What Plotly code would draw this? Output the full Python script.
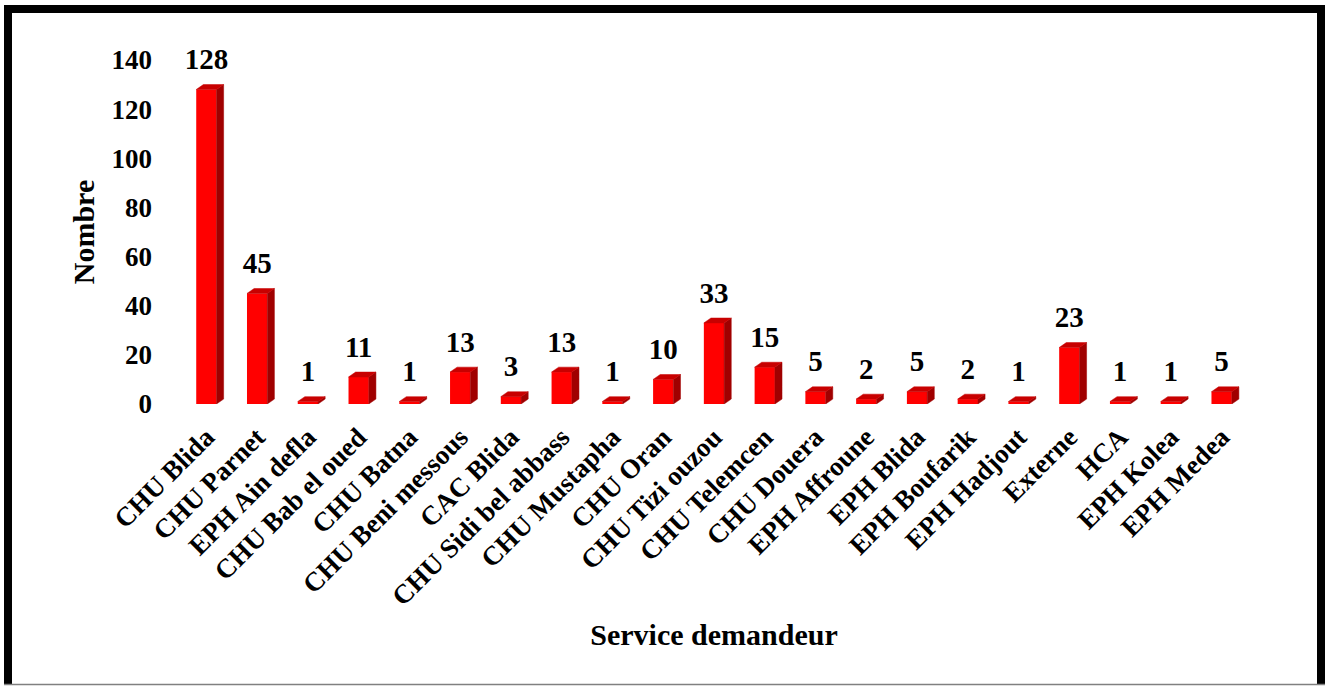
import plotly.graph_objects as go

categories = ["CHU Blida", "CHU Parnet", "EPH Ain defla", "CHU Bab el oued", "CHU Batna",
              "CHU Beni messous", "CAC Blida", "CHU Sidi bel abbass", "CHU Mustapha", "CHU Oran",
              "CHU Tizi ouzou", "CHU Telemcen", "CHU Douera", "EPH Affroune", "EPH Blida",
              "EPH Boufarik", "EPH Hadjout", "Externe", "HCA", "EPH Kolea", "EPH Medea"]
values = [128, 45, 1, 11, 1, 13, 3, 13, 1, 10, 33, 15, 5, 2, 5, 2, 1, 23, 1, 1, 5]
y_ticks = [0, 20, 40, 60, 80, 100, 120, 140]

W, H = 1325, 686
ML, MR, MT, MB = 181, 78, 60, 282
FONT = "Liberation Serif, Times New Roman, serif"

half = 0.2     # half width of the front face (category units)
dx = 0.14      # depth offset in x (category units)
dy = 2.0       # depth offset in y (value units)
label_gap = 3.3

xs = list(range(len(categories)))

side_x, side_y, top_x, top_y = [], [], [], []
for i, v in zip(xs, values):
    r = i + half
    l = i - half
    side_x += [r, r + dx, r + dx, r, r, None]
    side_y += [0, dy, v + dy, v, 0, None]
    top_x += [l, l + dx, r + dx, r, l, None]
    top_y += [v, v + dy, v + dy, v, v, None]

fig = go.Figure()
fig.add_trace(go.Bar(x=xs, y=values, width=2 * half,
                     marker=dict(color="#FF0000", line=dict(width=0)),
                     hoverinfo="x+y", showlegend=False))
fig.add_trace(go.Scatter(x=side_x, y=side_y, mode="lines", fill="toself",
                         fillcolor="#A00000", line=dict(width=0.5, color="#A00000"),
                         hoverinfo="skip", showlegend=False))
fig.add_trace(go.Scatter(x=top_x, y=top_y, mode="lines", fill="toself",
                         fillcolor="#C80000", line=dict(width=0.5, color="#C80000"),
                         hoverinfo="skip", showlegend=False))
fig.add_trace(go.Scatter(x=xs, y=[v + dy + label_gap for v in values], mode="text",
                         text=[str(v) for v in values], textposition="top center",
                         textfont=dict(family=FONT, size=29, color="black", weight="bold"),
                         cliponaxis=False, hoverinfo="skip", showlegend=False))

pw = W - ML - MR
ph = H - MT - MB
def px(xp):
    return (xp - ML) / pw
def py(yp):
    return (H - MB - yp) / ph

shapes = [
    dict(type="line", xref="paper", yref="paper", x0=px(8), x1=px(8), y0=py(5), y1=py(685),
         line=dict(color="black", width=8)),
    dict(type="line", xref="paper", yref="paper", x0=px(4), x1=px(1325), y0=py(9), y1=py(9),
         line=dict(color="black", width=8)),
    dict(type="line", xref="paper", yref="paper", x0=px(1321), x1=px(1321), y0=py(5), y1=py(685),
         line=dict(color="black", width=8)),
    dict(type="line", xref="paper", yref="paper", x0=px(4), x1=px(1325), y0=py(684.5), y1=py(684.5),
         line=dict(color="#808080", width=1.5)),
]

fig.update_layout(
    width=W, height=H,
    margin=dict(l=ML, r=MR, t=MT, b=MB, autoexpand=False),
    paper_bgcolor="white", plot_bgcolor="white",
    font=dict(family=FONT, color="black"),
    shapes=shapes,
    xaxis=dict(range=[-0.5, len(categories) - 0.5], tickmode="array", tickvals=xs,
               ticktext=categories, tickangle=-45, showgrid=False, zeroline=False,
               showline=False, ticks="", ticklabelstandoff=11,
               tickfont=dict(family=FONT, size=27, color="black", weight="bold"),
               title=dict(text="Service demandeur", standoff=13,
                          font=dict(family=FONT, size=30, color="black", weight="bold"))),
    yaxis=dict(range=[0, 140], tickmode="array", tickvals=y_ticks, showgrid=False,
               zeroline=False, showline=False, ticks="", ticklabelstandoff=28,
               tickfont=dict(family=FONT, size=27, color="black", weight="bold"),
               title=dict(text="Nombre", standoff=8,
                          font=dict(family=FONT, size=30, color="black", weight="bold"))),
)

fig.write_html("out.html", config={"displayModeBar": False},
               post_script="document.body.style.margin='0';document.body.style.overflow='hidden';")
